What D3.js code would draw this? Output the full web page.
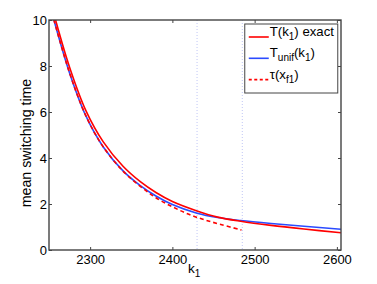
<!DOCTYPE html>
<html>
<head>
<meta charset="utf-8">
<script src="https://cdn.jsdelivr.net/npm/d3@7"></script>
<style>
  html, body { margin: 0; padding: 0; background: #fff; }
  svg { display: block; font-family: "Liberation Sans", Arial, sans-serif; }
</style>
</head>
<body>
<div id="chart"></div>
<script>
// k1 values and curves
const exactK = [2258, 2275, 2295, 2316, 2340, 2361, 2380, 2400, 2430, 2455, 2483, 2520, 2560, 2605];
const exactT = [10, 7.95, 6.05, 4.7, 3.64, 2.97, 2.5, 2.11, 1.7, 1.43, 1.25, 1.07, 0.91, 0.75];

const unifK = [2256, 2275, 2295, 2316, 2340, 2361, 2380, 2400, 2430, 2455, 2483, 2520, 2560, 2605];
const unifT = [10, 7.7, 5.82, 4.48, 3.44, 2.8, 2.35, 1.98, 1.6, 1.41, 1.28, 1.15, 1.03, 0.9];

const tauK = [2256, 2275, 2295, 2316, 2340, 2361, 2380, 2400, 2420, 2440, 2460, 2484];
const tauT = [10, 7.7, 5.82, 4.48, 3.43, 2.77, 2.27, 1.88, 1.55, 1.3, 1.1, 0.87];

const markerK = [2430, 2485];
const xTicks = [2300, 2400, 2500, 2600];
const yTicks = [0, 2, 4, 6, 8, 10];

const W = 377, H = 284;
const margin = {top: 20, right: 36, bottom: 34, left: 49};
const width = W - margin.left - margin.right;
const height = H - margin.top - margin.bottom;

const svg = d3.select('#chart').append('svg')
    .attr('width', W)
    .attr('height', H);

const g = svg.append('g')
    .attr('transform', `translate(${margin.left},${margin.top})`);

const x = d3.scaleLinear().domain([2250, 2605]).range([0, width]);
const y = d3.scaleLinear().domain([0, 10]).range([height, 0]);

g.append('clipPath').attr('id', 'clip')
    .append('rect').attr('width', width).attr('height', height);

// dotted vertical markers
g.selectAll('.marker')
    .data(markerK)
    .enter().append('line')
    .attr('x1', d => x(d)).attr('x2', d => x(d))
    .attr('y1', 0).attr('y2', height)
    .attr('stroke', '#c0c6f5')
    .attr('stroke-width', 1)
    .attr('stroke-dasharray', '1,2');

const line = d3.line()
    .x(d => x(d[0]))
    .y(d => y(d[1]))
    .curve(d3.curveCatmullRom);

const series = [
    {k: unifK, v: unifT, color: '#2b4bff', dash: null},
    {k: exactK, v: exactT, color: '#ff0000', dash: null},
    {k: tauK, v: tauT, color: '#ff0000', dash: '4,3'}
];

g.append('g').attr('clip-path', 'url(#clip)')
    .selectAll('path')
    .data(series)
    .enter().append('path')
    .attr('d', s => line(s.k.map((k, i) => [k, s.v[i]])))
    .attr('fill', 'none')
    .attr('stroke', s => s.color)
    .attr('stroke-width', 1.6)
    .attr('stroke-dasharray', s => s.dash);

// axes (inner ticks, mirrored box)
const axisColor = '#444';
const styleAxis = sel => {
    sel.select('.domain').remove();
    sel.selectAll('line').attr('stroke', axisColor);
    sel.selectAll('text').attr('fill', '#000').style('font-size', '13px');
};

g.append('g')
    .attr('transform', `translate(0,${height})`)
    .call(d3.axisBottom(x).tickValues(xTicks).tickSize(-3).tickPadding(5).tickFormat(d3.format('d')))
    .call(styleAxis);

g.append('g')
    .call(d3.axisTop(x).tickValues(xTicks).tickSize(-3).tickFormat(''))
    .call(styleAxis);

g.append('g')
    .call(d3.axisLeft(y).tickValues(yTicks).tickSize(-3).tickPadding(2))
    .call(styleAxis);

g.append('g')
    .attr('transform', `translate(${width},0)`)
    .call(d3.axisRight(y).tickValues(yTicks).tickSize(-3).tickFormat(''))
    .call(styleAxis);

g.append('rect')
    .attr('width', width).attr('height', height)
    .attr('fill', 'none')
    .attr('stroke', axisColor)
    .attr('stroke-width', 1.4);

// axis labels
const xl = g.append('text')
    .attr('x', width / 2 - 7)
    .attr('y', height + 23)
    .style('font-size', '13.5px');
xl.append('tspan').text('k');
xl.append('tspan').attr('dy', 4).style('font-size', '10px').text('1');

g.append('text')
    .attr('transform', 'rotate(-90)')
    .attr('x', -height / 2 - 8)
    .attr('y', -18)
    .attr('text-anchor', 'middle')
    .style('font-size', '14.2px')
    .text('mean switching time');

// legend
const legend = g.append('g')
    .attr('transform', `translate(${x(2488)},4)`);

legend.append('rect')
    .attr('width', 93).attr('height', 69)
    .attr('fill', '#fff')
    .attr('stroke', axisColor)
    .attr('stroke-width', 1);

const legendItems = [
    {color: '#ff0000', dash: null, parts: [['T(k', 0], ['1', 1], [') exact', 0]]},
    {color: '#2b4bff', dash: null, parts: [['T', 0], ['unif', 1], ['(k', 0], ['1', 1], [')', 0]]},
    {color: '#ff0000', dash: '3,2.5', parts: [['\u03c4(x', 0], ['f1', 1], [')', 0]]}
];

legendItems.forEach((d, i) => {
    const ly = 13 + i * 21.3;
    legend.append('line')
        .attr('x1', 4).attr('x2', 24)
        .attr('y1', ly).attr('y2', ly)
        .attr('stroke', d.color)
        .attr('stroke-width', 1.6)
        .attr('stroke-dasharray', d.dash);
    const t = legend.append('text')
        .attr('x', 25)
        .attr('y', ly - 1)
        .style('font-size', '13.2px');
    let prev = 0;
    d.parts.forEach(([str, sub]) => {
        t.append('tspan')
            .attr('dy', sub === prev ? 0 : (sub ? 4 : -4))
            .style('font-size', sub ? '10px' : '13.2px')
            .text(str);
        prev = sub;
    });
});
</script>
</body>
</html>
